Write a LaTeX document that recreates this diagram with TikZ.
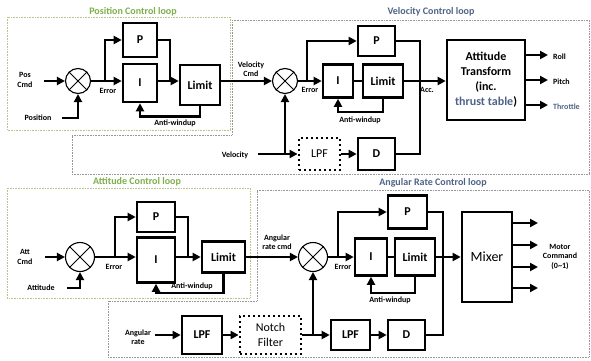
\documentclass[tikz,border=0pt]{standalone}
\usepackage{fontspec}
\setmainfont{Carlito}
\usetikzlibrary{arrows.meta,calc}
\definecolor{tgreen}{RGB}{125,175,75}
\definecolor{tblue}{RGB}{80,98,135}
\definecolor{fgreen}{RGB}{185,195,140}
\definecolor{fgray}{RGB}{150,150,158}
\tikzset{
 blk/.style={draw, line width=2.6pt, inner sep=0pt, align=center, font=\bfseries\fontsize{12}{12}\selectfont},
 dblk/.style={blk, line width=2.8pt, dash pattern=on 2.4pt off 2.6pt},
 arr/.style={line width=2.4pt, -{Triangle[length=8pt,width=8pt]}},
 ln/.style={line width=2.4pt},
 sm/.style={font=\bfseries\fontsize{8}{9.5}\selectfont, align=center, inner sep=0pt},
 ttl/.style={font=\bfseries\fontsize{10}{10}\selectfont, inner sep=0pt},
 frm/.style={line width=0.8pt, dash pattern=on 0.8pt off 0.8pt},
 sumc/.style={circle, draw, line width=1.1pt, inner sep=0pt},
 xline/.style={line width=1pt}
}
\begin{document}
\begin{tikzpicture}[x=1pt,y=-1pt]
\useasboundingbox (0,0) rectangle (591,361);
% frames
\draw[frm, fgreen] (7,17) rectangle (230,130);
\draw[frm, fgray] (232,20) -- (589,20) -- (589,174) -- (72,174) -- (72,135) -- (232,135) -- cycle;
\draw[frm, fgreen] (7,188) rectangle (250,298);
\draw[frm, fgray] (257,190) -- (589,190) -- (589,357) -- (108,357) -- (108,301) -- (257,301) -- cycle;
% titles
\node[ttl, tgreen] (t1) at (133,12) {Position Control loop};
\node[ttl, tblue] (t2) at (431,12) {Velocity Control loop};
\node[ttl, tgreen] (t3) at (137,182) {Attitude Control loop};
\node[ttl, tblue] (t4) at (433,183) {Angular Rate Control loop};

% ===== Position loop =====
\node[sumc, minimum size=25pt] (s1) at (78,81) {};
\draw[xline] (s1.north east) -- (s1.south west) (s1.north west) -- (s1.south east);
\node[blk, minimum width=34pt, minimum height=34pt] (P1) at (140,40) {P};
\node[blk, minimum width=34pt, minimum height=38pt] (I1) at (140,83) {I};
\node[blk, minimum width=40pt, minimum height=40pt] (L1) at (200,85) {Limit};
\node[sm] (lpc) at (25,80) {Pos\\Cmd};
\node[sm] (lpos) at (38,118) {Position};
\node[sm] (le1) at (108,91) {Error};
\node[sm] (law1) at (175,123) {Anti-windup};
\node[sm] (lvc) at (251,69) {Velocity\\Cmd};
\coordinate (pin) at (44,81);
\coordinate (pfb) at (62,118);
\coordinate (j1) at (105,81);
\coordinate (m1) at (170,81);
\draw[arr] (pin) -- (s1.west);
\draw[arr] (pfb) -| (s1.south);
\draw[ln] (s1.east) -- (j1);
\draw[arr] (j1) |- (P1.west);
\draw[arr] (j1) -- (j1 -| I1.west);
\draw[ln] (P1.east) -| (m1);
\draw[arr] (m1 -| I1.east) -- (m1 -| L1.west);
\draw[arr] (L1.south) -- ++(0,10) -| (I1.south);

% ===== Velocity loop =====
\node[sumc, minimum size=25pt] (s2) at (285,81) {};
\draw[xline] (s2.north east) -- (s2.south west) (s2.north west) -- (s2.south east);
\draw[arr] (s2 -| L1.east) -- (s2.west);
\node[blk, minimum width=37pt, minimum height=30pt] (P2) at (376.5,41) {P};
\node[blk, minimum width=30pt, minimum height=33pt] (I2) at (338,81) {I};
\node[blk, minimum width=40pt, minimum height=33pt] (L2) at (383,81) {Limit};
\node[dblk, minimum width=41pt, minimum height=32pt] (F2) at (319.5,154) {\mdseries LPF};
\node[blk, minimum width=37pt, minimum height=32pt] (D2) at (376.5,154) {D};
\node[blk, minimum width=78pt, minimum height=80pt, font=\bfseries\fontsize{12}{15}\selectfont] (AT) at (486,80) {Attitude\\Transform\\(inc.\\{\color{tblue}thrust table})};
\node[sm] (le2) at (310,90) {Error};
\node[sm] (law2) at (360,120) {Anti-windup};
\node[sm] (lacc) at (427,90) {Acc.};
\node[sm] (lvel) at (235,155) {Velocity};
\coordinate (j2) at (307,81);
\coordinate (j3) at (420,81);
\coordinate (vin) at (258,154);
\coordinate (j4) at (285,154);
\draw[ln] (s2.east) -- (j2);
\draw[arr] (j2) |- (P2.west);
\draw[arr] (j2) -- (I2.west);
\draw[ln] (I2.east) -- (L2.west);
\draw[ln] (L2.east) -- (j3);
\draw[arr] (j3) -- (j3 -| AT.west);
\draw[ln] (P2.east) -| (j3);
\draw[ln] (D2.east) -| (j3);
\draw[arr] (L2.south) -- ++(0,13) -| (I2.south);
\draw[arr] (vin) -- (F2.west);
\draw[arr] (j4) -- (s2.south);
\draw[arr] (F2.east) -- (D2.west);
\coordinate (o1) at (548,55);
\coordinate (o2) at (548,80);
\coordinate (o3) at (548,105);
\draw[arr] (o1 -| AT.east) -- (o1);
\draw[arr] (o2 -| AT.east) -- (o2);
\draw[arr] (o3 -| AT.east) -- (o3);
\node[sm, anchor=west] (lroll) at (553,57) {Roll};
\node[sm, anchor=west] (lpitch) at (553,82) {Pitch};
\node[sm, anchor=west, tblue] (lthr) at (553,107) {Throttle};

% ===== Attitude loop =====
\node[sumc, minimum size=29pt] (s3) at (80,257) {};
\draw[xline] (s3.north east) -- (s3.south west) (s3.north west) -- (s3.south east);
\node[blk, minimum width=38pt, minimum height=30pt] (P3) at (156,217) {P};
\node[blk, minimum width=38pt, minimum height=45pt] (I3) at (156,260) {I};
\node[blk, minimum width=43pt, minimum height=31pt] (L3) at (223.5,257) {Limit};
\node[sm] (lac) at (25,257) {Att\\Cmd};
\node[sm] (latt) at (41,288) {Attitude};
\node[sm] (le3) at (114,267) {Error};
\node[sm] (law3) at (192,286) {Anti-windup};
\node[sm] (larc) at (277,242) {Angular\\rate cmd};
\coordinate (ain) at (45,257);
\coordinate (afb) at (67,288);
\coordinate (j5) at (115,257);
\coordinate (m3) at (188,257);
\draw[arr] (ain) -- (s3.west);
\draw[arr] (afb) -| (s3.south);
\draw[ln] (s3.east) -- (j5);
\draw[arr] (j5) |- (P3.west);
\draw[arr] (j5) -- (j5 -| I3.west);
\draw[ln] (P3.east) -| (m3);
\draw[arr] (m3 -| I3.east) -- (L3.west);
\draw[arr] (L3.south) -- ++(0,19) -| (I3.south);

% ===== Angular rate loop =====
\node[sumc, minimum size=29pt] (s4) at (313,257) {};
\draw[xline] (s4.north east) -- (s4.south west) (s4.north west) -- (s4.south east);
\draw[arr] (L3.east) -- (s4.west);
\node[blk, minimum width=39pt, minimum height=33pt] (P4) at (407.5,212) {P};
\node[blk, minimum width=32pt, minimum height=37pt] (I4) at (371,257) {I};
\node[blk, minimum width=40pt, minimum height=37pt] (L4) at (415,257) {Limit};
\node[blk, minimum width=50pt, minimum height=90pt, font=\fontsize{14}{14}\selectfont] (MX) at (487,257) {Mixer};
\node[blk, minimum width=40pt, minimum height=38pt] (F5) at (202,335) {LPF};
\node[dblk, minimum width=61pt, minimum height=38pt, font=\fontsize{12}{15}\selectfont] (NF) at (270.5,335) {Notch\\Filter};
\node[blk, minimum width=39pt, minimum height=30pt] (F6) at (350.5,335) {LPF};
\node[blk, minimum width=37pt, minimum height=30pt] (D4) at (406.5,335) {D};
\node[sm] (le4) at (343,267) {Error};
\node[sm] (law4) at (390,300) {Anti-windup};
\node[sm] (lar) at (138,337) {Angular\\rate};
\node[sm] (lmc) at (560,257) {Motor\\Command\\(0{\char"7E}1)};
\coordinate (j6) at (338,257);
\coordinate (j7) at (443,257);
\coordinate (rin) at (155,335);
\coordinate (j8) at (313,335);
\draw[ln] (s4.east) -- (j6);
\draw[arr] (j6) |- (P4.west);
\draw[arr] (j6) -- (I4.west);
\draw[ln] (I4.east) -- (L4.west);
\draw[ln] (L4.east) -- (j7);
\draw[arr] (j7) -- (MX.west);
\draw[ln] (P4.east) -| (j7);
\draw[ln] (D4.east) -| (j7);
\draw[arr] (L4.south) -- ++(0,16) -| (I4.south);
\draw[arr] (rin) -- (F5.west);
\draw[arr] (F5.east) -- (NF.west);
\draw[ln] (NF.east) -- (j8);
\draw[arr] (j8) -- (F6.west);
\draw[arr] (j8) -- (s4.south);
\draw[arr] (F6.east) -- (D4.west);
\coordinate (q1) at (538,223);
\coordinate (q2) at (538,245);
\coordinate (q3) at (538,267);
\coordinate (q4) at (538,288);
\draw[arr] (q1 -| MX.east) -- (q1);
\draw[arr] (q2 -| MX.east) -- (q2);
\draw[arr] (q3 -| MX.east) -- (q3);
\draw[arr] (q4 -| MX.east) -- (q4);
\end{tikzpicture}
\end{document}
